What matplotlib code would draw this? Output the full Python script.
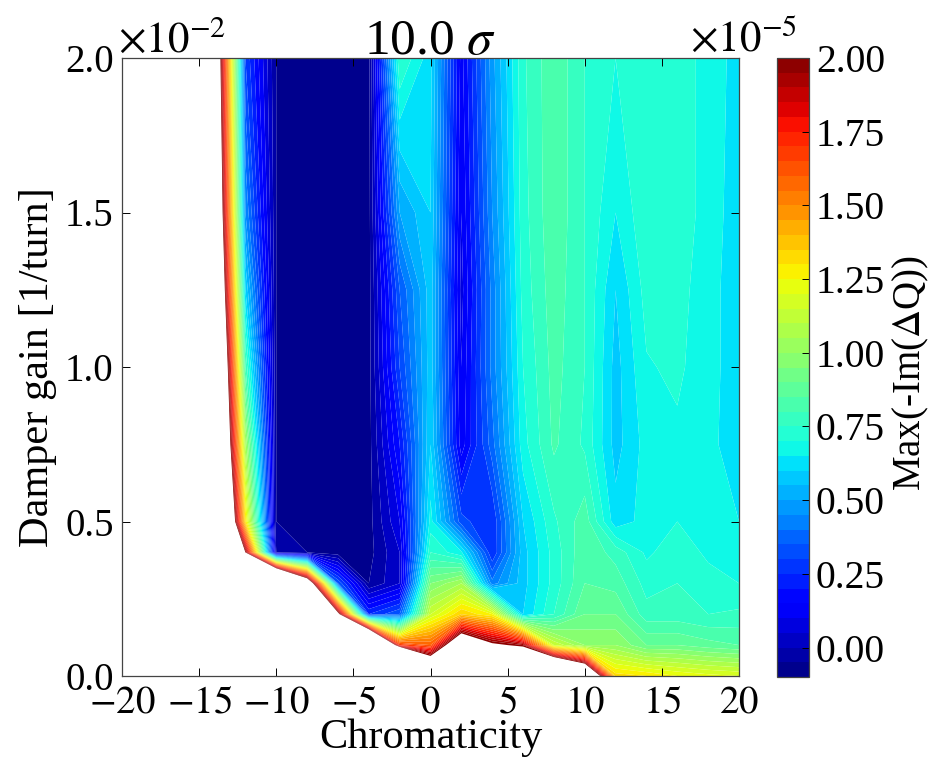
import matplotlib
matplotlib.use("Agg")
import matplotlib.pyplot as plt
import numpy as np

plt.rcParams['font.family'] = ['Liberation Serif', 'DejaVu Serif']
plt.rcParams['mathtext.fontset'] = 'stix'

# Chromaticity and damper gain nodes of the scan
chroma = [-20, -18, -16, -14, -12, -10, -8, -6, -4, -2, 0, 2, 4, 6, 8, 10, 12, 14, 16, 18, 20]
gain = [0.0, 0.001, 0.002, 0.003, 0.004, 0.005, 0.0075, 0.01, 0.0125, 0.015, 0.02]

# Max(-Im(dQ)) in units of 1e-5, one list per gain
g0000 = [5, 5, 5, 5, 5, 5, 5, 5, 5, 7, 2.74, 3, 3, 3, 3.35, 2.67, 1.33, 1.3, 1.25, 1.22, 1.2]
g0010 = [5, 5, 5, 5, 5, 5, 5, 5, 3.85, 1.7, 1.6, 2.4, 2.05, 1.95, 1.15, 1.0, 1.0, .9, .9, .87, .85]
g0020 = [5, 5, 5, 5, 5, 5, 5, 2.1, .25, .35, 1.15, 1.35, 1.25, .6, .75, .9, .9, .77, .77, .75, .76]
g0030 = [5, 5, 5, 5, 5, 3.9, 2.4, .35, -.05, .05, .95, 1.05, .42, .58, .72, .85, .83, .73, .75, .72, .7]
g0040 = [5, 5, 5, 4, 2.0, 0, -.05, -.08, -.07, .05, .75, .66, .25, .58, .72, .84, .78, .69, .73, .69, .67]
g0050 = [5, 5, 5, 3.4, 1.3, -.05, -.08, -.08, -.07, .1, .67, .32, .25, .6, .74, .83, .62, .67, .7, .67, .65]
g0075 = [5, 5, 5, 3, 1.05, -.05, -.08, -.08, -.07, .2, .6, .12, .38, .68, .81, .74, .58, .67, .69, .66, .63]
g0100 = [5, 5, 5, 2.9, .8, -.05, -.08, -.08, -.07, .3, .58, .1, .42, .7, .82, .75, .58, .695, .71, .67, .62]
g0125 = [5, 5, 5, 2.7, .6, -.05, -.08, -.08, -.07, .35, .58, .08, .42, .72, .83, .75, .6, .72, .72, .67, .62]
g0150 = [5, 5, 5, 2.55, .45, -.05, -.08, -.08, -.07, .5, .6, .1, .45, .73, .84, .75, .65, .74, .73, .68, .62]
g0200 = [5, 5, 5, 2.4, .3, -.05, -.08, -.08, -.07, .75, .62, .13, .48, .74, .84, .75, .7, .74, .73, .68, .63]

xticks = [-20, -15, -10, -5, 0, 5, 10, 15, 20]
yticks = [0.0, 0.005, 0.01, 0.015, 0.02]
yticklabels = ['0.0', '0.5', '1.0', '1.5', '2.0']
cticks = [0.0, 0.25, 0.5, 0.75, 1.0, 1.25, 1.5, 1.75, 2.0]

W, H = 932.0, 757.0
fig = plt.figure(figsize=(W / 100, H / 100), dpi=100)
ax = fig.add_axes([122 / W, 1 - 676 / H, 617 / W, 618 / H])
cax = fig.add_axes([777 / W, 1 - 677 / H, 32 / W, 619 / H])

z = np.array([g0000, g0010, g0020, g0030, g0040, g0050, g0075, g0100, g0125, g0150, g0200])
levels = np.arange(-0.1, 2.0001, 0.05)
cs = ax.contourf(chroma, gain, z, levels=levels, cmap='jet', antialiased=True)

ax.set_xlim(-20, 20)
ax.set_ylim(0, 0.02)
ax.set_xticks(xticks)
ax.set_xticklabels(['$%d$' % t for t in xticks])
ax.set_yticks(yticks)
ax.set_yticklabels(yticklabels)
ax.tick_params(direction='in', top=True, right=True, length=6, width=0.7, labelsize=28, pad=6)
ax.set_xlabel('Chromaticity', fontsize=30.5, labelpad=-2)
ax.set_ylabel('Damper gain [1/turn]', fontsize=30.5, labelpad=6)
ax.set_title(r'10.0 $\sigma$', fontsize=37, pad=3)
for s in ax.spines.values():
    s.set_linewidth(0.9)
    s.set_color('#444444')

cb = fig.colorbar(cs, cax=cax)
cb.set_ticks(cticks)
cb.set_ticklabels(['%.2f' % t for t in cticks])
cax.tick_params(direction='in', length=5, width=0.7, labelsize=28.5, pad=5)
cb.set_label('Max(-Im($\\Delta$Q))', fontsize=28, labelpad=4)
cax.yaxis.label.set_y(0.49)
cb.outline.set_linewidth(0.9)
cb.outline.set_edgecolor('#444444')

fig.text(118 / W, 1 - 52 / H, r'$\times 10^{-2}$', fontsize=31, ha='left', va='baseline')
fig.text(690 / W, 1 - 52 / H, r'$\times 10^{-5}$', fontsize=31, ha='left', va='baseline')

fig.savefig('out.png', dpi=100)
